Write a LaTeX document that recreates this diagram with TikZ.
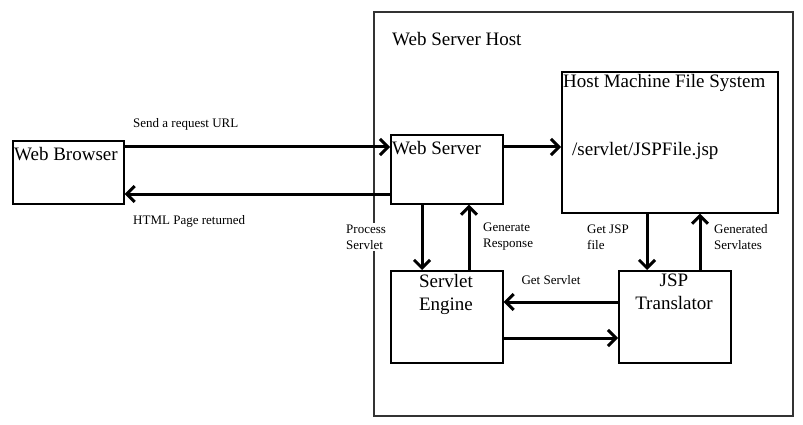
\documentclass[tikz,border=0pt]{standalone}
\usepackage{fontspec}
\setmainfont{Liberation Serif}
\usetikzlibrary{arrows.meta}
\begin{document}
\begin{tikzpicture}[x=1pt,y=-1pt,
  box/.style={draw=black,line width=1.6pt,rectangle,inner sep=0pt,anchor=north west},
  big/.style={font=\fontsize{19}{23}\selectfont,inner sep=0pt},
  small/.style={font=\fontsize{13}{16}\selectfont,inner sep=0pt,align=left},
  arr/.style={line width=3pt,-{Straight Barb[length=8pt,width=16pt,line width=3pt]}}]
\useasboundingbox (0,0) rectangle (803,425);
\node[box,draw=black!80,line width=1.8pt,minimum width=419pt,minimum height=404pt] (host) at (373,11) {};
\node[box,minimum width=111pt,minimum height=63pt] (wb) at (12,140) {};
\node[box,minimum width=112pt,minimum height=69pt] (ws) at (390,134) {};
\node[box,minimum width=216pt,minimum height=141pt] (fs) at (561,71) {};
\node[box,minimum width=112pt,minimum height=92pt] (se) at (390,270) {};
\node[box,minimum width=112pt,minimum height=92pt] (jt) at (618,270) {};
% texts
\node[big,anchor=west] (twb) at (14,154) {Web Browser};
\node[big,anchor=west] (tws) at (392,148) {Web Server};
\node[big,anchor=west] (thost) at (392,39) {Web Server Host};
\node[big,anchor=west] (tfs) at (563,83) {Host Machine File System};
\node[big,anchor=west] (tjsp) at (572,151) {/servlet/JSPFile.jsp};
\node[big,align=center,anchor=north] (tse) at (446,274) {Servlet\\Engine};
\node[big,align=center,anchor=north] (tjt) at (674,274) {JSP\\Translator};
\node[small,anchor=west] (l1) at (133,124) {Send a request URL};
\node[small,anchor=west] (l2) at (133,221) {HTML Page returned};
\node[small,anchor=west,fill=white,inner ysep=2pt] (l3) at (346,237) {Process\\Servlet};
\node[small,anchor=west] (l4) at (483,237) {Generate\\Response};
\node[small,anchor=west] (l5) at (587,237) {Get JSP\\file};
\node[small,anchor=west] (l6) at (714,237) {Generated\\Servlates};
\node[small] (l7) at (551,280) {Get Servlet};
% helper coordinates
\coordinate (yreq) at (0,147);
\coordinate (yret) at (0,194);
\coordinate (xdown) at (422,0);
\coordinate (xup) at (469,0);
\coordinate (xdown2) at (647,0);
\coordinate (xup2) at (700,0);
\coordinate (yget) at (0,302);
\coordinate (yput) at (0,338);
% arrows
\draw[arr] (wb.east |- yreq) -- (ws.west |- yreq);
\draw[arr] (ws.west |- yret) -- (wb.east |- yret);
\draw[arr] (ws.east |- yreq) -- (fs.west |- yreq);
\draw[arr] (xdown |- ws.south) -- (xdown |- se.north);
\draw[arr] (xup |- se.north) -- (xup |- ws.south);
\draw[arr] (xdown2 |- fs.south) -- (xdown2 |- jt.north);
\draw[arr] (xup2 |- jt.north) -- (xup2 |- fs.south);
\draw[arr] (jt.west |- yget) -- (se.east |- yget);
\draw[arr] (se.east |- yput) -- (jt.west |- yput);
\end{tikzpicture}
\end{document}
